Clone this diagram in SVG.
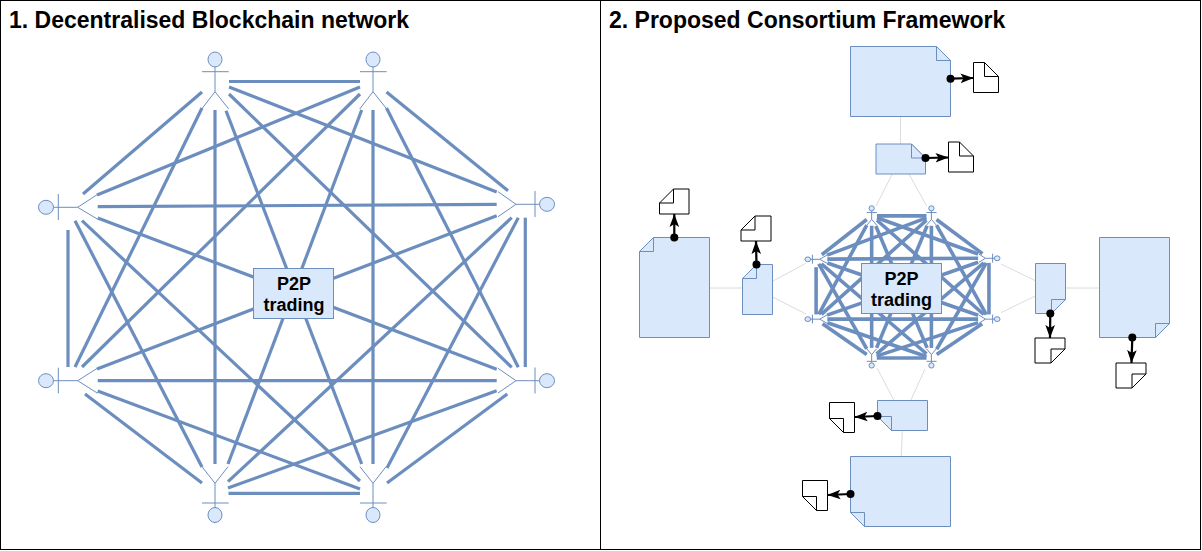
<svg xmlns="http://www.w3.org/2000/svg" width="1202" height="551" viewBox="0 0 1202 551">
<style>
text{font-family:"Liberation Sans",Arial,sans-serif;font-weight:bold;fill:#000}
.title{font-size:23px}
.box{font-size:18px;text-anchor:middle}
.s{fill:#dae8fc;stroke:#6c8ebf;stroke-width:1}
.a{fill:none;stroke:#6c8ebf;stroke-width:1;vector-effect:non-scaling-stroke}
.h{fill:#dae8fc;stroke:#6c8ebf;stroke-width:1;vector-effect:non-scaling-stroke}
.c line{stroke:#6c8ebf;stroke-width:var(--w,3.2);vector-effect:non-scaling-stroke}
.g line{stroke:#dcdcdc;stroke-width:1}
.d{fill:#fff;stroke:#000;stroke-width:1}
.f{fill:none;stroke:#000;stroke-width:1}
.l{stroke:#000;stroke-width:2.2;fill:none;marker-end:url(#arr)}
.p{fill:#000}
</style>
<defs>
<marker id="arr" markerUnits="userSpaceOnUse" markerWidth="14" markerHeight="12" refX="13" refY="5" orient="auto" viewBox="0 0 14 10">
<path d="M13,5 L0,0.2 L3,5 L0,9.8Z" fill="#000"/>
</marker>
</defs>
<rect id="panel-1" x="0.5" y="0.5" width="600" height="549" fill="#fff" stroke="#000"/>
<rect id="panel-2" x="600.5" y="0.5" width="600" height="549" fill="#fff" stroke="#000"/>
<text class="title" x="9" y="28">1. Decentralised Blockchain network</text>
<text class="title" x="609" y="28">2. Proposed Consortium Framework</text>

<g id="connectors-1" class="c">
<line x1="229" y1="81.5" x2="360" y2="81.5"/>
<line x1="229" y1="87" x2="496.7" y2="192"/>
<line x1="229" y1="94" x2="511.7" y2="367.3"/>
<line x1="226" y1="110.7" x2="361.7" y2="464"/>
<line x1="215" y1="110" x2="215" y2="464"/>
<line x1="202" y1="92" x2="83" y2="194"/>
<line x1="202" y1="108" x2="75" y2="367"/>
<line x1="360" y1="87" x2="97" y2="195"/>
<line x1="360" y1="94" x2="82" y2="367"/>
<line x1="361.7" y1="110" x2="228" y2="464"/>
<line x1="373" y1="110" x2="373" y2="464"/>
<line x1="386.5" y1="108" x2="518.3" y2="367.3"/>
<line x1="386.5" y1="92" x2="508" y2="190.7"/>
<line x1="97.7" y1="206.7" x2="496.7" y2="204.3"/>
<line x1="97.7" y1="218" x2="496.7" y2="369.3"/>
<line x1="82" y1="220.7" x2="360" y2="481"/>
<line x1="75" y1="220.7" x2="202" y2="467"/>
<line x1="68" y1="230" x2="68" y2="367"/>
<line x1="97" y1="369" x2="496.7" y2="215.7"/>
<line x1="97.7" y1="380.7" x2="496.7" y2="380.7"/>
<line x1="85" y1="394" x2="202" y2="483"/>
<line x1="97.7" y1="391" x2="360" y2="489"/>
<line x1="228.5" y1="493.3" x2="360" y2="493.3"/>
<line x1="228" y1="488" x2="496.7" y2="390.7"/>
<line x1="228" y1="481.7" x2="511.7" y2="217.7"/>
<line x1="387" y1="483" x2="507.3" y2="394"/>
<line x1="387" y1="468" x2="518.3" y2="217.7"/>
<line x1="525.3" y1="217.7" x2="525.3" y2="367"/>
</g>

<g id="actor-1a"><ellipse class="h" cx="215" cy="59.5" rx="7" ry="7.5"/><path class="a" d="M215,67V91.7M202,71.7H228.7M201.7,109L215,91.7L228.7,109"/></g>
<g id="actor-1b"><ellipse class="h" cx="373" cy="59.5" rx="7" ry="7.5"/><path class="a" d="M373,67V91.7M360,71.7H386.7M359.7,109L373,91.7L386.7,109"/></g>
<g id="actor-1c"><ellipse class="h" cx="46" cy="207.3" rx="7.5" ry="7"/><path class="a" d="M53.5,207.3H77.7M58.3,194V220M97.7,194.3L77.7,207.3L97.7,219.3"/></g>
<g id="actor-1d"><ellipse class="h" cx="547" cy="204.3" rx="7.5" ry="7"/><path class="a" d="M539.5,204.3H516M535,191V217M498,191.7L516,204.3L498,216.7"/></g>
<g id="actor-1e"><ellipse class="h" cx="46" cy="380.7" rx="7.5" ry="7"/><path class="a" d="M53.5,380.7H77.7M58.3,367.7V393.3M97.7,368L77.7,380.7L97.7,393.3"/></g>
<g id="actor-1f"><ellipse class="h" cx="547" cy="380.7" rx="7.5" ry="7"/><path class="a" d="M539.5,380.7H516M535,367.5V393.5M498,368.3L516,380.7L498,393"/></g>
<g id="actor-1g"><ellipse class="h" cx="215" cy="515" rx="7" ry="7.5"/><path class="a" d="M215,507.5V483.3M202,503H228.7M202,466.7L215,483.3L228,466.7"/></g>
<g id="actor-1h"><ellipse class="h" cx="373" cy="515" rx="7" ry="7.5"/><path class="a" d="M373,507.5V483.3M360,503H386.7M360,466.7L373,483.3L386,466.7"/></g>

<g id="p2p-1"><rect class="s" x="253.5" y="268.5" width="80" height="50"/><text class="box" x="294" y="289.5">P2P</text><text class="box" x="294" y="310.5">trading</text></g>

<g id="links-2" class="g">
<line x1="900.5" y1="116.5" x2="900.5" y2="144"/>
<line x1="892.3" y1="174" x2="876" y2="206"/>
<line x1="909" y1="174" x2="926.7" y2="206"/>
<line x1="710" y1="288" x2="742.7" y2="288"/>
<line x1="773" y1="281" x2="806" y2="263.3"/>
<line x1="773" y1="297.3" x2="806" y2="314"/>
<line x1="1065.5" y1="288" x2="1099.5" y2="288"/>
<line x1="1035.3" y1="280.7" x2="1001" y2="264"/>
<line x1="1035.3" y1="296" x2="1001" y2="312.7"/>
<line x1="902.3" y1="430.7" x2="901.3" y2="456.3"/>
<line x1="894" y1="400.5" x2="877" y2="368"/>
<line x1="910.7" y1="400.5" x2="925" y2="369"/>
</g>
<use id="connectors-2" href="#connectors-1" style="--w:3.6" transform="matrix(.378 0 0 .345 790.4 187.8)"/>
<g id="actor-2a"><use href="#actor-1a" transform="matrix(.378 0 0 .345 790.4 187.8)"/></g>
<g id="actor-2b"><use href="#actor-1b" transform="matrix(.378 0 0 .345 790.4 187.8)"/></g>
<g id="actor-2c"><use href="#actor-1c" transform="matrix(.378 0 0 .345 790.4 187.8)"/></g>
<g id="actor-2d"><use href="#actor-1d" transform="matrix(.378 0 0 .345 790.4 187.8)"/></g>
<g id="actor-2e"><use href="#actor-1e" transform="matrix(.378 0 0 .345 790.4 187.8)"/></g>
<g id="actor-2f"><use href="#actor-1f" transform="matrix(.378 0 0 .345 790.4 187.8)"/></g>
<g id="actor-2g"><use href="#actor-1g" transform="matrix(.378 0 0 .345 790.4 187.8)"/></g>
<g id="actor-2h"><use href="#actor-1h" transform="matrix(.378 0 0 .345 790.4 187.8)"/></g>
<g id="p2p-2"><rect class="s" x="861.5" y="263.5" width="80" height="50"/><text class="box" x="901.5" y="284.5">P2P</text><text class="box" x="901.5" y="305.5">trading</text></g>

<g id="note-top-big"><path class="s" d="M850.5,46.5H936.5L950.5,60.5V116.5H850.5Z"/><path class="s" d="M936.5,46.5V60.5H950.5Z"/></g>
<g id="doc-top-big"><path class="d" d="M973.5,62.5H984.5L998.5,76.5V92.5H973.5Z"/><path class="f" d="M984.5,62.5V76.5H998.5"/></g>
<g id="note-top-mid"><path class="s" d="M876,144H911.5L925.5,158V174H876Z"/><path class="s" d="M911.5,144V158H925.5Z"/></g>
<g id="doc-top-mid"><path class="d" d="M948.5,142H959.5L973.5,156V172H948.5Z"/><path class="f" d="M959.5,142V156H973.5"/></g>
<g id="note-left-big"><path class="s" d="M653.5,237.5H709.5V337.5H639.5V251.5Z"/><path class="s" d="M653.5,237.5V251.5H639.5Z"/></g>
<g id="doc-left-big"><path class="d" d="M673.5,189H689V214H659.5V203Z"/><path class="f" d="M673.5,189V203H659.5"/></g>
<g id="note-left-mid"><path class="s" d="M756.5,264.5H772.5V314.5H742.5V278.5Z"/><path class="s" d="M756.5,264.5V278.5H742.5Z"/></g>
<g id="doc-left-mid"><path class="d" d="M755,216H771V241H741V230Z"/><path class="f" d="M755,216V230H741"/></g>
<g id="note-right-mid"><path class="s" d="M1035.5,263.5H1065.5V299.5L1051.5,313.5H1035.5Z"/><path class="s" d="M1065.5,299.5H1051.5V313.5Z"/></g>
<g id="doc-right-mid"><path class="d" d="M1035,338H1065V349L1051,363H1035Z"/><path class="f" d="M1065,349H1051V363"/></g>
<g id="note-right-big"><path class="s" d="M1099.5,237.5H1169.5V323.5L1155.5,337.5H1099.5Z"/><path class="s" d="M1169.5,323.5H1155.5V337.5Z"/></g>
<g id="doc-right-big"><path class="d" d="M1116,363H1146V374L1132,388H1116Z"/><path class="f" d="M1146,374H1132V388"/></g>
<g id="note-bottom-mid"><path class="s" d="M877.5,400.5H927.5V430.5H891.5L877.5,416.5Z"/><path class="s" d="M877.5,416.5H891.5V430.5Z"/></g>
<g id="doc-bottom-mid"><path class="d" d="M829.5,402.5H854.5V432.5H843.5L829.5,418.5Z"/><path class="f" d="M829.5,418.5H843.5V432.5"/></g>
<g id="note-bottom-big"><path class="s" d="M850.5,456.5H950.5V526.5H864.5L850.5,512.5Z"/><path class="s" d="M850.5,512.5H864.5V526.5Z"/></g>
<g id="doc-bottom-big"><path class="d" d="M802.5,480.5H827.5V510.5H816.5L802.5,496.5Z"/><path class="f" d="M802.5,496.5H816.5V510.5"/></g>

<g id="arrows-2">
<line class="l" x1="950.5" y1="78.7" x2="973.5" y2="78"/><circle class="p" cx="950.5" cy="78.7" r="4"/>
<line class="l" x1="925.5" y1="158" x2="948.5" y2="157.5"/><circle class="p" cx="925.5" cy="158" r="4"/>
<line class="l" x1="674.3" y1="237.5" x2="674.3" y2="214"/><circle class="p" cx="674.3" cy="237.5" r="4"/>
<line class="l" x1="756.5" y1="264.5" x2="756" y2="241"/><circle class="p" cx="756.5" cy="264.5" r="4"/>
<line class="l" x1="1050.3" y1="313.5" x2="1050" y2="338"/><circle class="p" cx="1050.3" cy="313.5" r="4"/>
<line class="l" x1="1132.3" y1="337.5" x2="1131.5" y2="363"/><circle class="p" cx="1132.3" cy="337.5" r="4"/>
<line class="l" x1="877.5" y1="416" x2="854.5" y2="417"/><circle class="p" cx="877.5" cy="416" r="4"/>
<line class="l" x1="850.5" y1="494" x2="827.5" y2="495"/><circle class="p" cx="850.5" cy="494" r="4"/>
</g>
</svg>
